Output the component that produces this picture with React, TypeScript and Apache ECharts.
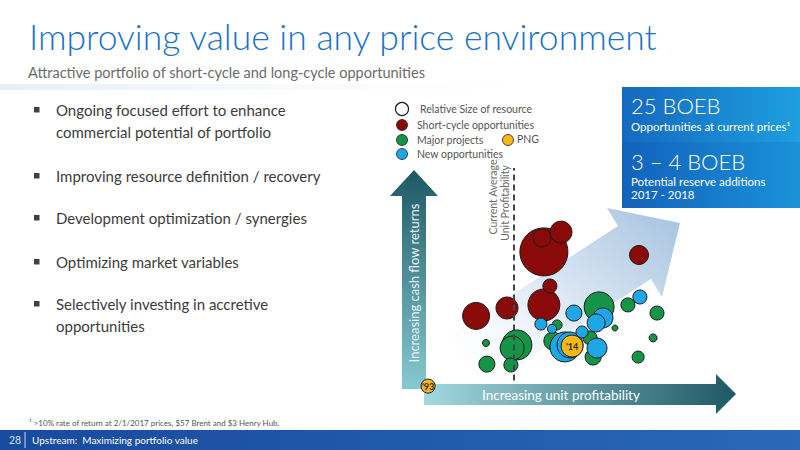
import * as echarts from "echarts";
import { useEffect, useRef } from "react";

const FONT = "Lato, 'Open Sans', sans-serif";

/** 气泡数据：[单位盈利性, 现金流回报, 资源相对规模(气泡直径)]。 */
const SHORT_CYCLE: number[][] = [
  [40.3, 60.5, 48],
  [39.7, 66.8, 18],
  [46.0, 69.5, 22],
  [72.0, 59.1, 19],
  [40.3, 36.4, 32],
  [42.3, 45.0, 14],
  [17.7, 31.4, 27],
  [28.0, 35.0, 22],
];
const MAJOR_PROJECTS: number[][] = [
  [31.3, 18.2, 30],
  [29.7, 16.8, 24],
  [21.0, 19.1, 7],
  [21.3, 9.5, 16],
  [29.3, 9.1, 14],
  [58.7, 35.5, 30],
  [68.3, 36.4, 14],
  [78.0, 32.7, 14],
  [76.7, 21.4, 8],
  [71.7, 12.7, 12],
  [64.0, 25.9, 6],
  [44.7, 27.3, 10],
  [43.3, 20.0, 18],
  [56.7, 12.7, 16],
  [55.7, 21.4, 14],
];
const NEW_OPPORTUNITIES: number[][] = [
  [47.3, 17.3, 30],
  [49.0, 18.2, 26],
  [72.3, 40.0, 14],
  [50.3, 32.7, 16],
  [60.0, 30.5, 20],
  [57.7, 28.2, 18],
  [39.3, 27.7, 12],
  [43.0, 25.5, 9],
  [53.0, 24.1, 12],
  [58.0, 16.8, 20],
];
/** PNG 两个时点：'93 位于坐标原点附近，'14 位于集群中部。 */
const PNG_POINTS: (number | string)[][] = [
  [1.7, -0.5, 14, "'93"],
  [49.7, 17.7, 22, "'14"],
];

const CURRENT_AVG_PROFITABILITY = 30.3;

const BULLETS: string[][] = [
  ["Ongoing focused effort to enhance", "commercial potential of portfolio"],
  ["Improving resource definition / recovery"],
  ["Development optimization / synergies"],
  ["Optimizing market variables"],
  ["Selectively investing in accretive", "opportunities"],
];
const BULLET_Y = [110, 176, 218, 262, 304];

const LEGEND_LABELS = ["Relative Size of resource", "Short-cycle opportunities", "Major projects", "New opportunities"];
const LEGEND_COLORS = ["#ffffff", "#8a0a0a", "#139447", "#1ea7e6"];
const LEGEND_Y = [109, 125, 140, 154];

const COLOR_RED = "#8a0a0a";
const COLOR_GREEN = "#139447";
const COLOR_BLUE = "#1ea7e6";
const COLOR_YELLOW = "#f6b817";

function txt(text: string, x: number, y: number, opts: Record<string, unknown> = {}) {
  const { z, rotation, ...style } = opts as { z?: number; rotation?: number } & Record<string, unknown>;
  return {
    type: "text",
    x,
    y,
    z: z ?? 5,
    rotation: rotation ?? 0,
    silent: true,
    style: {
      text,
      fill: "#404040",
      fontFamily: FONT,
      fontSize: 12,
      verticalAlign: "middle",
      ...style,
    },
  };
}

function buildGraphic() {
  const els: unknown[] = [];

  // 标题区
  els.push(txt("Improving value in any price environment", 29, 36, { fontSize: 35.5, fill: "#1a72c6", fontWeight: 300 }));
  els.push(txt("Attractive portfolio of short-cycle and long-cycle opportunities", 28, 72, { fontSize: 14.5, fill: "#6b6b6b" }));
  els.push({
    type: "rect",
    shape: { x: 0, y: 84, width: 620, height: 6 },
    style: {
      fill: new echarts.graphic.LinearGradient(0, 0, 1, 0, [
        { offset: 0, color: "#e6eef7" },
        { offset: 1, color: "rgba(255,255,255,0)" },
      ]),
    },
    silent: true,
  });

  // 要点列表
  BULLETS.forEach((lines, i) => {
    els.push({
      type: "rect",
      shape: { x: 34, y: BULLET_Y[i] - 3, width: 5.5, height: 5.5 },
      style: { fill: "#404040" },
      silent: true,
    });
    lines.forEach((line, j) => {
      els.push(txt(line, 56, BULLET_Y[i] + j * 22, { fontSize: 15, fill: "#3c3c3c" }));
    });
  });

  // 背景大箭头（浅蓝渐变）
  els.push({
    type: "polygon",
    z: 0,
    silent: true,
    shape: {
      points: [
        [450, 335],
        [618, 226],
        [607, 208],
        [680, 223],
        [662, 297],
        [651, 279],
        [483, 388],
      ],
    },
    style: {
      fill: new echarts.graphic.LinearGradient(0, 1, 1, 0, [
        { offset: 0, color: "rgba(255,255,255,0)" },
        { offset: 0.45, color: "#e2ecf6" },
        { offset: 1, color: "#a5c2df" },
      ]),
    },
  });

  // 纵向箭头
  els.push({
    type: "polygon",
    z: 1,
    silent: true,
    shape: {
      points: [
        [402, 389],
        [402, 196],
        [390, 196],
        [414, 170],
        [438, 196],
        [426, 196],
        [426, 389],
      ],
    },
    style: {
      fill: new echarts.graphic.LinearGradient(0, 0, 0, 1, [
        { offset: 0, color: "#1d5864" },
        { offset: 1, color: "#86c9d2" },
      ]),
    },
  });
  els.push(txt("Increasing cash flow returns", 414, 283, {
    rotation: Math.PI / 2,
    align: "center",
    fontSize: 13,
    fill: "#eaf6f8",
    z: 3,
  }));

  // 横向箭头
  els.push({
    type: "polygon",
    z: 1,
    silent: true,
    shape: {
      points: [
        [424, 384],
        [716, 384],
        [716, 374],
        [736, 394],
        [716, 414],
        [716, 405],
        [424, 405],
      ],
    },
    style: {
      fill: new echarts.graphic.LinearGradient(0, 0, 1, 0, [
        { offset: 0, color: "#a3d9e0" },
        { offset: 1, color: "#1d5864" },
      ]),
    },
  });
  els.push(txt("Increasing unit profitability", 561, 395, { align: "center", fontSize: 13.5, fill: "#ffffff", z: 3 }));

  // 当前平均盈利性虚线说明（两行竖排，上端对齐）
  els.push(txt("Current Average", 493, 197, { rotation: Math.PI / 2, align: "center", fontSize: 10.5, fill: "#6a6a6a" }));
  els.push(txt("Unit Profitability", 505, 203, { rotation: Math.PI / 2, align: "center", fontSize: 10.5, fill: "#6a6a6a" }));

  // 图例
  LEGEND_LABELS.forEach((label, i) => {
    els.push({
      type: "circle",
      z: 5,
      silent: true,
      shape: { cx: 402, cy: LEGEND_Y[i], r: i === 0 ? 6.5 : 5.5 },
      style: { fill: LEGEND_COLORS[i], stroke: "#1a1a1a", lineWidth: i === 0 ? 1.2 : 0.8 },
    });
    els.push(txt(label, i === 0 ? 420 : 417, LEGEND_Y[i], { fontSize: 10.5, fill: "#555555" }));
  });
  els.push({
    type: "circle",
    z: 5,
    silent: true,
    shape: { cx: 508, cy: LEGEND_Y[2], r: 5.5 },
    style: { fill: COLOR_YELLOW, stroke: "#1a1a1a", lineWidth: 0.8 },
  });
  els.push(txt("PNG", 517, LEGEND_Y[2] - 1, { fontSize: 10.5, fill: "#555555" }));

  // 右侧蓝色信息框
  els.push({
    type: "rect",
    z: 4,
    silent: true,
    shape: { x: 622, y: 87, width: 178, height: 55 },
    style: {
      fill: new echarts.graphic.LinearGradient(0, 0, 1, 0, [
        { offset: 0, color: "#1569bf" },
        { offset: 1, color: "#1d9fe0" },
      ]),
    },
  });
  els.push({
    type: "rect",
    z: 4,
    silent: true,
    shape: { x: 622, y: 142, width: 178, height: 66 },
    style: {
      fill: new echarts.graphic.LinearGradient(0, 0, 1, 0, [
        { offset: 0, color: "#1262bb" },
        { offset: 1, color: "#1a92da" },
      ]),
    },
  });
  els.push(txt("25 BOEB", 631, 105, { fontSize: 22, fill: "#ffffff", fontWeight: 300 }));
  els.push(txt("Opportunities at current prices¹", 631, 126, { fontSize: 11.5, fill: "#ffffff" }));
  els.push(txt("3 – 4 BOEB", 631, 161, { fontSize: 22, fill: "#ffffff", fontWeight: 300 }));
  els.push(txt("Potential reserve additions", 631, 181, { fontSize: 11.5, fill: "#ffffff" }));
  els.push(txt("2017 - 2018", 631, 194, { fontSize: 11.5, fill: "#ffffff" }));

  // 脚注与页脚
  els.push(txt("¹ >10% rate of return at 2/1/2017 prices, $57 Brent and $3 Henry Hub.", 29, 423, { fontSize: 8, fill: "#555555" }));
  els.push({
    type: "rect",
    z: 4,
    silent: true,
    shape: { x: 0, y: 430, width: 800, height: 20 },
    style: {
      fill: new echarts.graphic.LinearGradient(0, 0, 1, 0, [
        { offset: 0, color: "#184a9e" },
        { offset: 1, color: "#2a68b8" },
      ]),
    },
  });
  els.push({
    type: "line",
    z: 5,
    silent: true,
    shape: { x1: 25, y1: 432, x2: 25, y2: 448 },
    style: { stroke: "#c9d8ee", lineWidth: 1 },
  });
  els.push(txt("28", 9, 440, { fontSize: 10.5, fill: "#d5e2f4" }));
  els.push(txt("Upstream:  Maximizing portfolio value", 32, 440, { fontSize: 10, fill: "#ffffff" }));

  return els;
}

function bubbleSeries(name: string, data: unknown[], color: string, z = 2) {
  return {
    name,
    type: "scatter",
    z,
    data,
    symbolSize: (v: number[]) => v[2],
    itemStyle: { color, borderColor: "#1a1a1a", borderWidth: 1, opacity: 1 },
    emphasis: { disabled: true },
  };
}

function buildOption(): echarts.EChartsOption {
  return {
    animation: false,
    backgroundColor: "#ffffff",
    textStyle: { fontFamily: FONT },
    grid: { left: 423, top: 165, width: 300, height: 242, containLabel: false },
    xAxis: { type: "value", min: 0, max: 100, show: false },
    yAxis: { type: "value", min: -10, max: 100, show: false },
    graphic: { elements: buildGraphic() as never },
    series: [
      {
        ...bubbleSeries("Short-cycle opportunities", SHORT_CYCLE, COLOR_RED),
        markLine: {
          silent: true,
          symbol: "none",
          z: 10,
          label: { show: false },
          lineStyle: { color: "#454545", type: [6, 4], width: 2 },
          data: [
            [
              { coord: [CURRENT_AVG_PROFITABILITY, 2] },
              { coord: [CURRENT_AVG_PROFITABILITY, 98.6] },
            ],
          ],
        },
      },
      bubbleSeries("Major projects", MAJOR_PROJECTS, COLOR_GREEN),
      bubbleSeries("New opportunities", NEW_OPPORTUNITIES, COLOR_BLUE),
      {
        ...bubbleSeries("PNG", PNG_POINTS, COLOR_YELLOW, 3),
        label: {
          show: true,
          position: "inside",
          formatter: (p: { value: (number | string)[] }) => String(p.value[3]),
          color: "#2a2a2a",
          fontFamily: FONT,
          fontWeight: "bold",
          fontSize: 9,
        },
      },
    ] as never,
  };
}

export default function App() {
  const ref = useRef<HTMLDivElement | null>(null);

  useEffect(() => {
    const el = ref.current;
    if (!el) {
      return undefined;
    }
    const chart = echarts.init(el, undefined, { renderer: "svg" });
    chart.setOption(buildOption());
    return () => {
      chart.dispose();
    };
  }, []);

  return (
    <div
      ref={ref}
      style={{ position: "fixed", left: 0, top: 0, width: 800, height: 450, background: "#ffffff" }}
    />
  );
}
